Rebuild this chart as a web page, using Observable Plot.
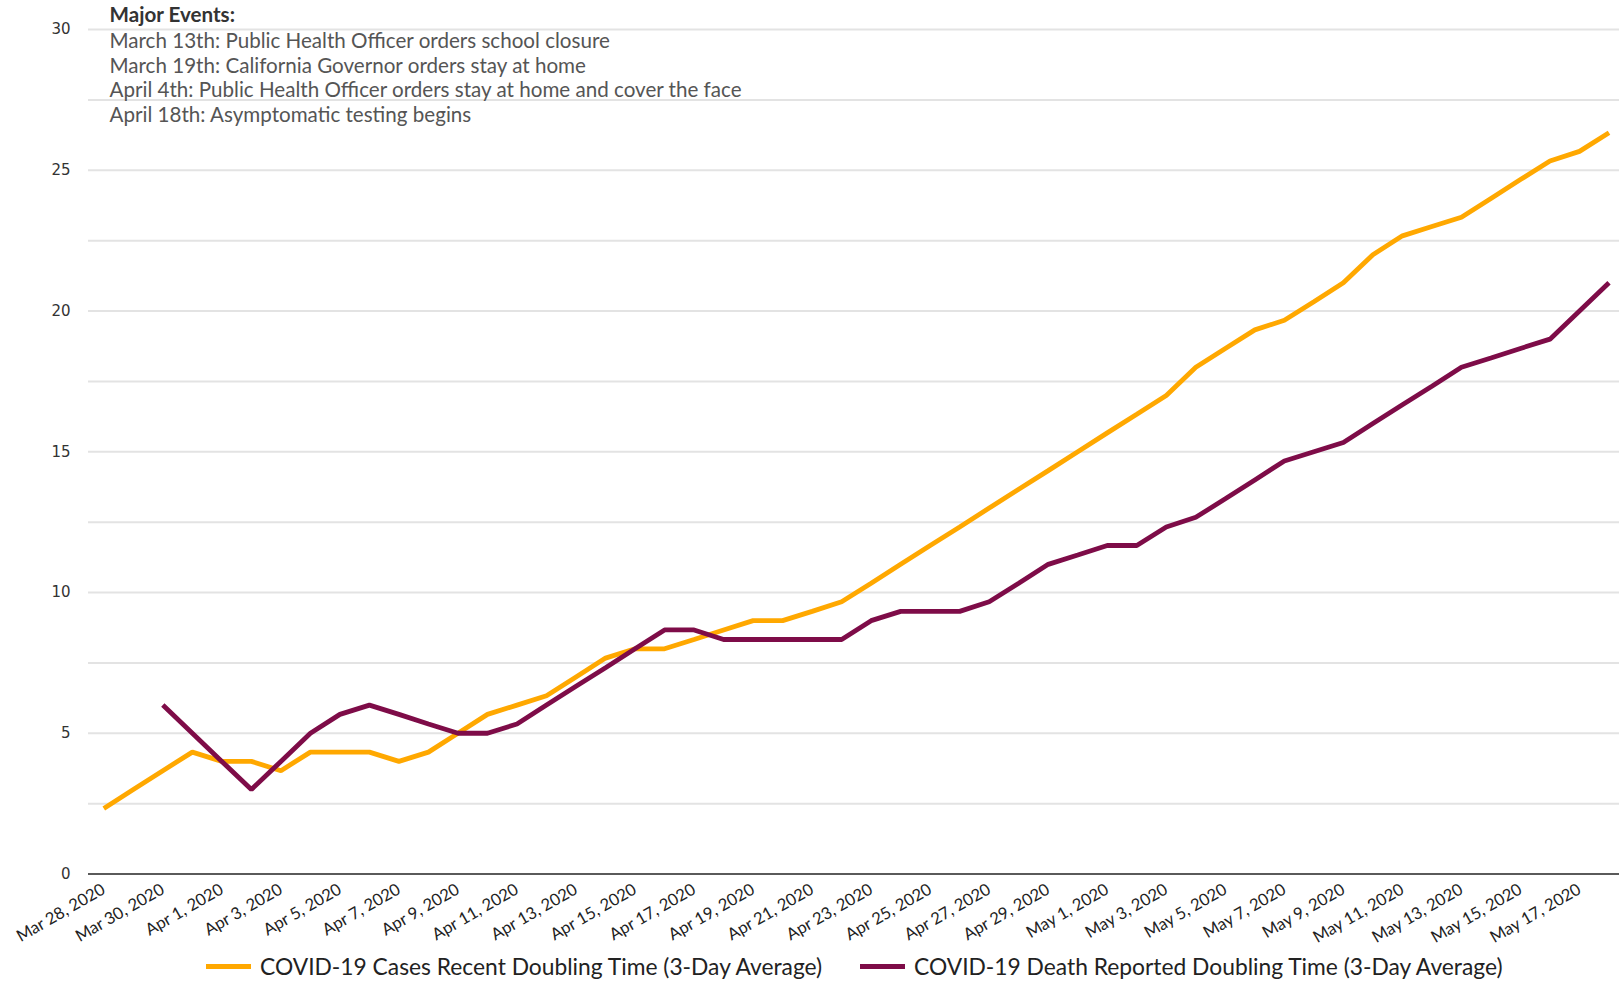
<!DOCTYPE html>
<html>
<head>
<meta charset="utf-8">
<script src="https://cdn.jsdelivr.net/npm/d3@7"></script>
<script src="https://cdn.jsdelivr.net/npm/@observablehq/plot@0.6"></script>
<style>
  html, body { margin: 0; padding: 0; background: #fff; overflow: hidden; }
  #wrap { width: 1619px; }
  #wrap svg { overflow: visible; }
  .legend { display: flex; align-items: center; height: 28px; font-family: Lato, sans-serif; font-size: 22.8px; color: #222; }
  .legend .item { display: flex; align-items: center; position: absolute; }
  .legend .sw { width: 45px; height: 5px; margin-right: 9px; }
</style>
</head>
<body>
<div id="wrap"></div>
<script>
const dates = [
  "Mar 28, 2020","Mar 29, 2020","Mar 30, 2020","Mar 31, 2020",
  "Apr 1, 2020","Apr 2, 2020","Apr 3, 2020","Apr 4, 2020","Apr 5, 2020","Apr 6, 2020",
  "Apr 7, 2020","Apr 8, 2020","Apr 9, 2020","Apr 10, 2020","Apr 11, 2020","Apr 12, 2020",
  "Apr 13, 2020","Apr 14, 2020","Apr 15, 2020","Apr 16, 2020","Apr 17, 2020","Apr 18, 2020",
  "Apr 19, 2020","Apr 20, 2020","Apr 21, 2020","Apr 22, 2020","Apr 23, 2020","Apr 24, 2020",
  "Apr 25, 2020","Apr 26, 2020","Apr 27, 2020","Apr 28, 2020","Apr 29, 2020","Apr 30, 2020",
  "May 1, 2020","May 2, 2020","May 3, 2020","May 4, 2020","May 5, 2020","May 6, 2020",
  "May 7, 2020","May 8, 2020","May 9, 2020","May 10, 2020","May 11, 2020","May 12, 2020",
  "May 13, 2020","May 14, 2020","May 15, 2020","May 16, 2020","May 17, 2020","May 18, 2020"
];
const xTickLabels = [
  "Mar 28, 2020","Mar 30, 2020","Apr 1, 2020","Apr 3, 2020","Apr 5, 2020","Apr 7, 2020",
  "Apr 9, 2020","Apr 11, 2020","Apr 13, 2020","Apr 15, 2020","Apr 17, 2020","Apr 19, 2020",
  "Apr 21, 2020","Apr 23, 2020","Apr 25, 2020","Apr 27, 2020","Apr 29, 2020","May 1, 2020",
  "May 3, 2020","May 5, 2020","May 7, 2020","May 9, 2020","May 11, 2020","May 13, 2020",
  "May 15, 2020","May 17, 2020"
];
const casesDoubling = [
  2.33, 3.0, 3.67, 4.33, 4.0, 4.0, 3.67, 4.33, 4.33, 4.33,
  4.0, 4.33, 5.0, 5.67, 6.0, 6.33, 7.0, 7.67, 8.0, 8.0,
  8.33, 8.67, 9.0, 9.0, 9.33, 9.67, 10.33, 11.0, 11.67, 12.33,
  13.0, 13.67, 14.33, 15.0, 15.67, 16.33, 17.0, 18.0, 18.67, 19.33,
  19.67, 20.33, 21.0, 22.0, 22.67, 23.0, 23.33, 24.0, 24.67, 25.33,
  25.67, 26.33
];
const deathsDoubling = [
  null, null, 6.0, 5.0, 4.0, 3.0, 4.0, 5.0, 5.67, 6.0,
  5.67, 5.33, 5.0, 5.0, 5.33, 6.0, 6.67, 7.33, 8.0, 8.67,
  8.67, 8.33, 8.33, 8.33, 8.33, 8.33, 9.0, 9.33, 9.33, 9.33,
  9.67, 10.33, 11.0, 11.33, 11.67, 11.67, 12.33, 12.67, 13.33, 14.0,
  14.67, 15.0, 15.33, 16.0, 16.67, 17.33, 18.0, 18.33, 18.67, 19.0,
  20.0, 21.0
];
const seriesNames = [
  "COVID-19 Cases Recent Doubling Time (3-Day Average)",
  "COVID-19 Death Reported Doubling Time (3-Day Average)"
];
const seriesColors = ["#FFA800", "#7E0C48"];
const yTicks = [0, 5, 10, 15, 20, 25, 30];
const gridValues = [2.5, 5, 7.5, 10, 12.5, 15, 17.5, 20, 22.5, 25, 27.5, 30];
const eventsTitle = "Major Events:";
const events = [
  "March 13th: Public Health Officer orders school closure",
  "March 19th: California Governor orders stay at home",
  "April 4th: Public Health Officer orders stay at home and cover the face",
  "April 18th: Asymptomatic testing begins"
];

const rows = [];
dates.forEach((d, i) => {
  rows.push({date: d, value: casesDoubling[i], series: seriesNames[0]});
  rows.push({date: d, value: deathsDoubling[i], series: seriesNames[1]});
});

const chart = Plot.plot({
  width: 1619,
  height: 952,
  marginLeft: 88,
  marginRight: 0,
  marginTop: 29,
  marginBottom: 78.5,
  style: {fontFamily: "Lato, sans-serif", background: "#fff", overflow: "visible"},
  x: {type: "point", domain: dates, padding: 0, round: false, range: [103.3, 1608.5], label: null},
  y: {domain: [0, 30], label: null},
  color: {domain: seriesNames, range: seriesColors},
  marks: [
    Plot.ruleY(gridValues, {stroke: "#e3e3e3", strokeWidth: 2}),
    Plot.ruleY([0], {stroke: "#5a5a5a", strokeWidth: 2}),
    Plot.axisY({ticks: yTicks, tickSize: 0, tickPadding: 18, fontSize: 15, fontFamily: "DejaVu Sans", fill: "#333", label: null}),
    Plot.axisX({ticks: xTickLabels, tickSize: 0, tickPadding: 14, tickRotate: -30, fontSize: 16.6, fill: "#222", label: null}),
    Plot.line(rows, {x: "date", y: "value", z: "series", stroke: "series", strokeWidth: 4.8, strokeLinecap: "butt", strokeLinejoin: "miter", defined: d => d.value != null}),
    Plot.text([eventsTitle], {frameAnchor: "top-left", dx: 21, dy: -14, lineAnchor: "middle", textAnchor: "start", fontSize: 20.6, fontWeight: "bold", fill: "#333"}),
    Plot.text([events.join("\n")], {frameAnchor: "top-left", dx: 21, dy: 1, lineAnchor: "top", textAnchor: "start", fontSize: 20.6, lineHeight: 1.194, fill: "#555"})
  ]
});

const wrap = document.getElementById("wrap");
wrap.appendChild(chart);

const legend = document.createElement("div");
legend.className = "legend";
legend.style.position = "relative";
const legendX = [206, 860];
seriesNames.forEach((name, i) => {
  const item = document.createElement("div");
  item.className = "item";
  item.style.left = legendX[i] + "px";
  const sw = document.createElement("span");
  sw.className = "sw";
  sw.style.background = seriesColors[i];
  const t = document.createElement("span");
  t.textContent = name;
  item.appendChild(sw);
  item.appendChild(t);
  legend.appendChild(item);
});
wrap.appendChild(legend);
</script>
</body>
</html>
